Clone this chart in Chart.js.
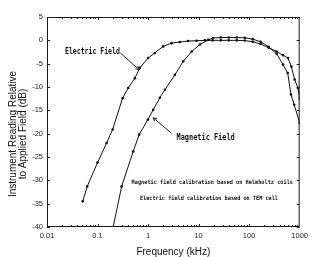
<!DOCTYPE html>
<html>
<head>
<meta charset="utf-8">
<script src="https://cdn.jsdelivr.net/npm/chart.js@4.4.0/dist/chart.umd.min.js"></script>
<style>
  html, body { margin: 0; padding: 0; background: #fff; }
</style>
</head>
<body>
<canvas id="myChart" width="312" height="257"></canvas>
<script>
// frequency in kHz, reading in dB
const electricFreq = [0.051, 0.0625, 0.1, 0.151, 0.199, 0.313, 0.405, 0.548, 0.689, 1.0, 1.36, 1.99, 2.91, 4.25, 6.2, 9.1, 13.3, 19, 27.5, 39.5, 57, 82, 118, 169, 244, 351, 469, 587, 685, 796, 925, 1000];
const electricDb = [-34.5, -31.3, -26.2, -22, -19.1, -12.4, -10.2, -8.1, -5.9, -3.8, -2.7, -1.3, -0.6, -0.36, -0.15, -0.08, 0, 0, 0, 0, 0, -0.05, -0.3, -0.8, -1.6, -2.4, -3.2, -3.8, -5.6, -8.4, -10.2, -12.5];

const magneticFreq = [0.204, 0.3, 0.508, 0.667, 0.99, 1.26, 1.71, 2.15, 3.39, 4.96, 7.3, 10.6, 15.5, 19.3, 27.5, 39.5, 57, 82, 118, 169, 244, 351, 469, 580, 673, 780, 1000];
const magneticDb = [-40, -31.3, -23.8, -20.2, -17.0, -14.9, -12.3, -10.6, -7.4, -4.5, -2.4, -0.9, 0.1, 0.5, 0.6, 0.6, 0.6, 0.55, 0.25, -0.3, -1.4, -2.9, -5.2, -7, -11.6, -13.8, -17.7];

const xTickValues = [0.01, 0.1, 1, 10, 100, 1000];
const xTickLabels = ["0.01", "0.1", "1", "10", "100", "1000"];
const yTickValues = [5, 0, -5, -10, -15, -20, -25, -30, -35, -40];
const yTitle = ["Instrument Reading Relative", "to Applied Field (dB)"];

// notes: [text, x from, x to, y, size] in data units (kHz, dB)
const notes = [
  ["Electric Field", 0.0227, 0.276, -2.4, 8],
  ["Magnetic Field", 3.66, 51.9, -20.9, 8],
  ["Magnetic field calibration based on Helmholtz coils", 0.472, 738, -30.4, 6],
  ["Electric field calibration based on TEM cell", 0.689, 372, -33.9, 6]
];
// arrows: [from x, from y, to x, to y]
const arrows = [
  [0.282, -2.7, 0.667, -6.3],
  [2.91, -19.9, 1.26, -16.6]
];

const toPoints = (fs, ds) => fs.map((f, i) => ({ x: f, y: ds[i] }));

const extras = {
  id: "extras",
  afterDraw(chart) {
    const c = chart.ctx;
    const a = chart.chartArea;
    const xs = chart.scales.x;
    const ys = chart.scales.y;
    c.save();
    c.strokeStyle = "#1a1a1a";
    c.lineWidth = 1;
    c.strokeRect(a.left + 0.5, a.top + 0.5, a.right - a.left - 1, a.bottom - a.top - 1);

    // inward ticks
    c.beginPath();
    for (let d = -2; d < 3; d++) {
      for (let m = 1; m < 10; m++) {
        const px = Math.round(xs.getPixelForValue(m * Math.pow(10, d))) + 0.5;
        const len = m === 1 ? 3 : 2;
        c.moveTo(px, a.bottom);
        c.lineTo(px, a.bottom - len);
        c.moveTo(px, a.top);
        c.lineTo(px, a.top + len);
      }
    }
    yTickValues.forEach(v => {
      const py = Math.round(ys.getPixelForValue(v)) + 0.5;
      c.moveTo(a.left, py);
      c.lineTo(a.left + 3, py);
      c.moveTo(a.right, py);
      c.lineTo(a.right - 3, py);
    });
    c.stroke();

    // y axis title, two lines
    c.fillStyle = "#111";
    c.font = "10px 'Liberation Sans'";
    c.textAlign = "center";
    c.textBaseline = "middle";
    c.save();
    c.translate(13, (a.top + a.bottom) / 2 + 12);
    c.rotate(-Math.PI / 2);
    c.fillText(yTitle[0], 0, 0);
    c.fillText(yTitle[1], 0, 10);
    c.restore();

    // labels
    c.textAlign = "left";
    notes.forEach(([t, x0, x1, y, size]) => {
      c.font = "bold " + size + "px 'DejaVu Sans Mono'";
      const p0 = xs.getPixelForValue(x0);
      const p1 = xs.getPixelForValue(x1);
      const w = c.measureText(t).width;
      c.save();
      c.translate(p0, ys.getPixelForValue(y));
      c.scale((p1 - p0) / w, 1);
      c.fillText(t, 0, 0);
      c.restore();
    });

    // arrows
    c.strokeStyle = "#222";
    arrows.forEach(([fx, fy, tx, ty]) => {
      const x0 = xs.getPixelForValue(fx), y0 = ys.getPixelForValue(fy);
      const x1 = xs.getPixelForValue(tx), y1 = ys.getPixelForValue(ty);
      const ang = Math.atan2(y1 - y0, x1 - x0);
      c.beginPath();
      c.moveTo(x0, y0);
      c.lineTo(x1, y1);
      c.moveTo(x1 - 4 * Math.cos(ang - 0.5), y1 - 4 * Math.sin(ang - 0.5));
      c.lineTo(x1, y1);
      c.lineTo(x1 - 4 * Math.cos(ang + 0.5), y1 - 4 * Math.sin(ang + 0.5));
      c.stroke();
    });
    c.restore();
  }
};

const lineStyle = {
  borderColor: "#111",
  backgroundColor: "#111",
  borderWidth: 1,
  pointRadius: 1.3,
  pointBorderWidth: 0,
  tension: 0,
  fill: false
};

new Chart(document.getElementById("myChart"), {
  type: "line",
  data: {
    datasets: [
      { label: "Electric Field", data: toPoints(electricFreq, electricDb), ...lineStyle },
      { label: "Magnetic Field", data: toPoints(magneticFreq, magneticDb), ...lineStyle }
    ]
  },
  options: {
    responsive: false,
    animation: false,
    devicePixelRatio: 1,
    layout: { padding: { left: 0, right: 12, top: 17, bottom: 0 } },
    plugins: { legend: { display: false }, tooltip: { enabled: false } },
    scales: {
      x: {
        type: "logarithmic",
        min: 0.01,
        max: 1000,
        grid: { display: false, drawTicks: false },
        border: { display: false },
        afterBuildTicks: s => { s.ticks = xTickValues.map(v => ({ value: v })); },
        afterFit: s => { s.height = 30; },
        ticks: {
          autoSkip: false,
          maxRotation: 0,
          padding: 4,
          color: "#222",
          font: { family: "'Liberation Sans'", size: 7.5 },
          callback: v => xTickLabels[xTickValues.indexOf(v)]
        },
        title: {
          display: true,
          text: "Frequency (kHz)",
          color: "#111",
          font: { family: "'Liberation Sans'", size: 10, lineHeight: 1 },
          padding: { top: 0, bottom: 0 }
        }
      },
      y: {
        min: -40,
        max: 5,
        grid: { display: false, drawTicks: false },
        border: { display: false },
        afterBuildTicks: s => { s.ticks = yTickValues.map(v => ({ value: v })); },
        afterFit: s => { s.width = 47; },
        ticks: {
          padding: 4,
          color: "#222",
          font: { family: "'Liberation Sans'", size: 7.5 }
        }
      }
    }
  },
  plugins: [extras]
});
</script>
</body>
</html>
